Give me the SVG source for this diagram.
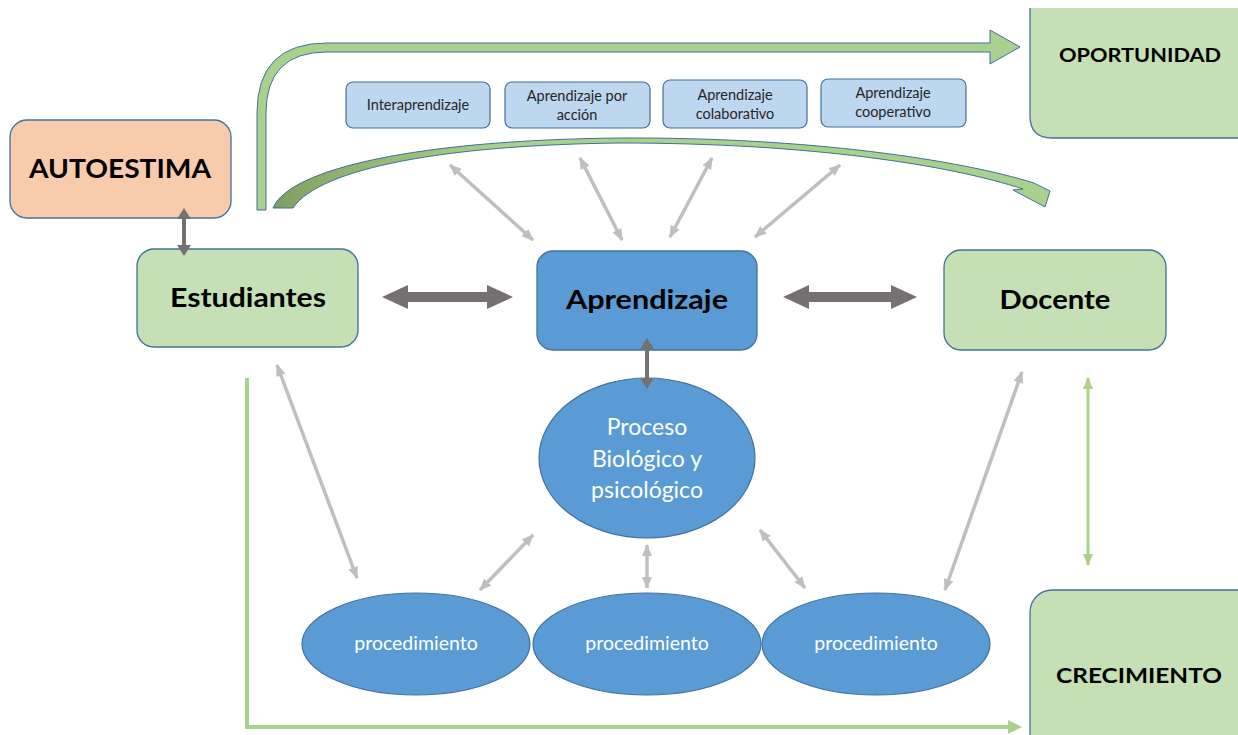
<svg xmlns="http://www.w3.org/2000/svg" width="1238" height="735" viewBox="0 0 1238 735">
<defs>
<style>
.box{stroke:#41719c;stroke-width:1.3}
.green{fill:#c5e0b4}
.sm{fill:#bdd7ee;stroke:#41719c;stroke-width:1.2}
.ell{fill:#5b9bd5;stroke:#41719c;stroke-width:1.2}
.lbl{font-family:Lato,"Liberation Sans",sans-serif;font-weight:bold;fill:#000;text-anchor:middle}
.smt{font-family:Lato,"Liberation Sans",sans-serif;font-size:14.5px;fill:#262626;text-anchor:middle}
.wt{font-family:Lato,"Liberation Sans",sans-serif;fill:#fff;text-anchor:middle}
.lg{stroke:#bfbfbf;stroke-width:3.5;fill:none;marker-start:url(#hg);marker-end:url(#hg)}
.dk{fill:#767171}
</style>
<marker id="hg" viewBox="0 0 12 10" refX="11" refY="5" markerWidth="12" markerHeight="10" markerUnits="userSpaceOnUse" orient="auto-start-reverse">
<path d="M0,0 L12,5 L0,10 Z" fill="#bfbfbf"/>
</marker>
<marker id="hgr" viewBox="0 0 12 10" refX="11" refY="5" markerWidth="12" markerHeight="10" markerUnits="userSpaceOnUse" orient="auto-start-reverse">
<path d="M0,0 L12,5 L0,10 Z" fill="#a9d18e"/>
</marker>
<linearGradient id="cg" x1="273" y1="0" x2="1048" y2="0" gradientUnits="userSpaceOnUse">
<stop offset="0" stop-color="#7e9e5f"/>
<stop offset="0.08" stop-color="#8fb06e"/>
<stop offset="0.3" stop-color="#a9d18e"/>
<stop offset="1" stop-color="#a9d18e"/>
</linearGradient>
</defs>
<rect width="1238" height="735" fill="#fff"/>

<g id="autoestima">
<rect class="box" x="10" y="120" width="221" height="98" rx="17" fill="#f8cbad"/>
<text class="lbl" x="120" y="178" font-size="27" textLength="182" lengthAdjust="spacingAndGlyphs">AUTOESTIMA</text>
</g>
<g id="estudiantes">
<rect class="box green" x="137" y="249" width="221" height="98" rx="17"/>
<text class="lbl" x="248" y="307" font-size="26" textLength="156" lengthAdjust="spacingAndGlyphs">Estudiantes</text>
</g>
<g id="aprendizaje">
<rect class="box" x="537" y="251" width="220" height="99" rx="16" fill="#5b9bd5"/>
<text class="lbl" x="647" y="309" font-size="26" textLength="162" lengthAdjust="spacingAndGlyphs">Aprendizaje</text>
</g>
<g id="docente">
<rect class="box green" x="944" y="250" width="222" height="100" rx="17"/>
<text class="lbl" x="1055" y="309" font-size="26" textLength="111" lengthAdjust="spacingAndGlyphs">Docente</text>
</g>
<g id="oportunidad">
<path class="green" d="M1030,8 L1240,8 L1240,138 L1052,138 Q1030,138 1030,116 Z"/>
<path d="M1030,8 L1030,116 Q1030,138 1052,138 L1240,138" fill="none" stroke="#41719c" stroke-width="1.3"/>
<text class="lbl" x="1140" y="62" font-size="19" textLength="162" lengthAdjust="spacingAndGlyphs">OPORTUNIDAD</text>
</g>
<g id="crecimiento">
<rect class="box green" x="1030" y="590" width="230" height="170" rx="22"/>
<text class="lbl" x="1139" y="683" font-size="21" textLength="166" lengthAdjust="spacingAndGlyphs">CRECIMIENTO</text>
</g>

<g id="interaprendizaje">
<rect class="sm" x="346" y="82" width="144" height="46" rx="7"/>
<text class="smt" x="418" y="110">Interaprendizaje</text>
</g>
<g id="por-accion">
<rect class="sm" x="505" y="82" width="145" height="46" rx="7"/>
<text class="smt" x="577" y="101">Aprendizaje por</text>
<text class="smt" x="577" y="120">acción</text>
</g>
<g id="colaborativo">
<rect class="sm" x="663" y="80" width="144" height="48" rx="7"/>
<text class="smt" x="735" y="100">Aprendizaje</text>
<text class="smt" x="735" y="119">colaborativo</text>
</g>
<g id="cooperativo">
<rect class="sm" x="821" y="79" width="145" height="48" rx="7"/>
<text class="smt" x="893" y="98">Aprendizaje</text>
<text class="smt" x="893" y="117">cooperativo</text>
</g>

<g id="proceso">
<ellipse class="ell" cx="647" cy="458" rx="108" ry="80"/>
<text class="wt" x="647" y="435" font-size="23">Proceso</text>
<text class="wt" x="647" y="467" font-size="23">Biológico y</text>
<text class="wt" x="647" y="498" font-size="23">psicológico</text>
</g>
<g id="proc1">
<ellipse class="ell" cx="416" cy="644" rx="114" ry="51"/>
<text class="wt" x="416" y="650" font-size="19.5">procedimiento</text>
</g>
<g id="proc2">
<ellipse class="ell" cx="647" cy="644" rx="114" ry="51"/>
<text class="wt" x="647" y="650" font-size="19.5">procedimiento</text>
</g>
<g id="proc3">
<ellipse class="ell" cx="876" cy="644" rx="114" ry="51"/>
<text class="wt" x="876" y="650" font-size="19.5">procedimiento</text>
</g>

<g id="connectors">
<path d="M257,210 L257,113 Q257,43 327,43 L990,43 L990,30 L1020,47 L990,64 L990,52 L327,52 Q266,52 266,113 L266,210 Z" fill="#a9d18e" stroke="#41719c" stroke-width="1"/>
<path d="M273,208 C290,168 420,140 620,138 C810,137 960,160 1034,183 L1050,191 L1045,207 L1013,190 L1023,189 C950,165 810,143 620,143 C445,145 320,168 293,208 Z" fill="url(#cg)" stroke="#41719c" stroke-width="1"/>
<line class="lg" x1="533" y1="240" x2="450" y2="165"/>
<line class="lg" x1="622" y1="240" x2="580" y2="158"/>
<line class="lg" x1="670" y1="237" x2="712" y2="158"/>
<line class="lg" x1="755" y1="237" x2="840" y2="165"/>
<line class="lg" x1="277" y1="365" x2="357" y2="578"/>
<line class="lg" x1="533" y1="535" x2="480" y2="590"/>
<line class="lg" x1="647" y1="545" x2="647" y2="588"/>
<line class="lg" x1="760" y1="530" x2="805" y2="588"/>
<line class="lg" x1="1022" y1="372" x2="945" y2="590"/>
<polygon class="dk" points="382,297 408,285 408,292 487,292 487,285 513,297 487,309 487,302 408,302 408,309"/>
<polygon class="dk" points="783,297 809,285 809,292 891,292 891,285 917,297 891,309 891,302 809,302 809,309"/>
<polygon class="dk" points="184,208 191,219 186,219 186,245 191,245 184,256 177,245 182,245 182,219 177,219"/>
<polygon class="dk" points="647,338 654,349 649,349 649,378 654,378 647,389 640,378 645,378 645,349 640,349"/>
<line x1="1088" y1="378" x2="1088" y2="565" stroke="#a9d18e" stroke-width="3" marker-start="url(#hgr)" marker-end="url(#hgr)"/>
<polyline points="247,378 247,727 1012,727" fill="none" stroke="#a9d18e" stroke-width="4"/>
<path d="M1008,720 L1022,727 L1008,734 Z" fill="#a9d18e"/>
</g>
</svg>
